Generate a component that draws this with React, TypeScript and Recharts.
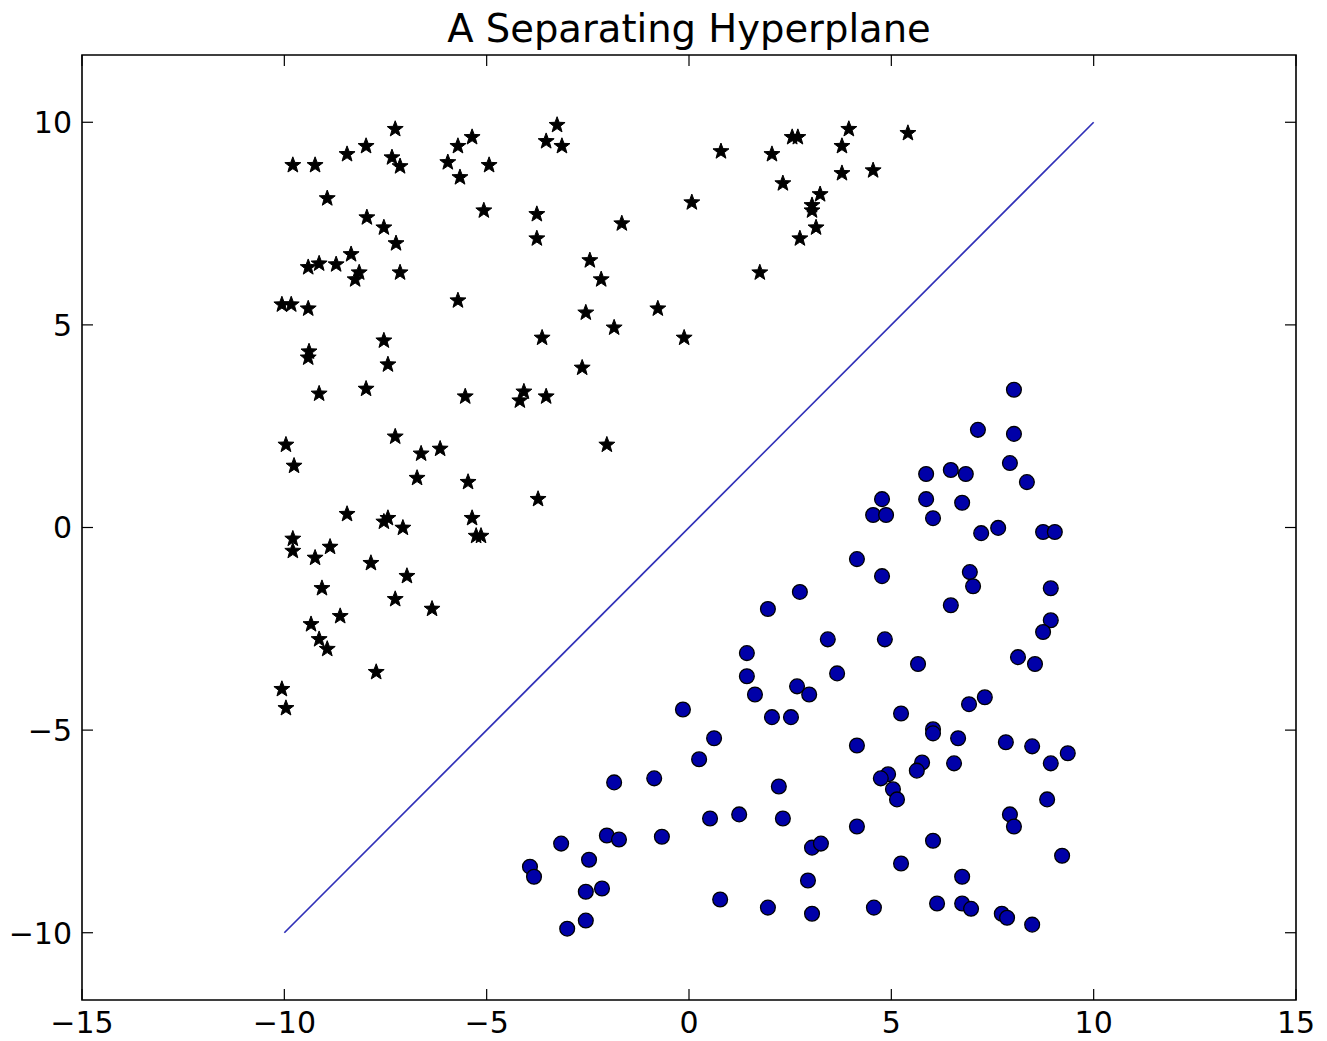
import React from 'react';
import { ScatterChart, Scatter, XAxis, YAxis, ReferenceArea } from 'recharts';

const starX = [-7.26, -7.98, -8.45, -9.79, -9.24, -7.34, -7.14, -5.36, -5.71, -5.96, -5.66, -4.94, -3.26, -3.53, -3.14,
    -8.94, -7.96, -7.54, -7.24, -5.07, -3.76, -3.76, -8.35, -9.41, -9.14, -8.72, -8.15, -8.25, -7.14, -2.45, -2.17,
    -10.06, -9.83, -9.41, -5.71, -2.55, -3.63, -7.54, -9.39, -9.41, -7.44, -2.64, -9.14, -7.98, -5.53, -4.08, -4.18, -3.53,
    0.79, 2.05, 2.55, 2.69, 3.95, 5.41, 3.78, 3.78, 4.55, 2.32, 3.24, 3.04, 3.04, 3.14, 2.74, 0.07, -1.66, 1.75, -0.77, -1.85, -0.12,
    -9.96, -9.76, -7.26, -6.62, -6.15, -6.72, -5.46, -2.03, -3.73, -8.45, -7.54, -7.44, -7.07, -5.36, -5.26, -5.14,
    -9.79, -9.79, -8.87, -9.24, -7.86, -6.97, -9.07, -7.26, -6.35, -8.62, -9.34, -9.14, -8.94, -7.73, -10.06, -9.96];
const starY = [9.83, 9.41, 9.21, 8.94, 8.94, 9.13, 8.91, 9.63, 9.41, 9.01, 8.64, 8.94, 9.93, 9.53, 9.41,
    8.12, 7.65, 7.40, 7.01, 7.82, 7.73, 7.13, 6.74, 6.42, 6.51, 6.49, 6.29, 6.12, 6.29, 6.59, 6.12,
    5.50, 5.50, 5.40, 5.60, 5.30, 4.68, 4.61, 4.34, 4.19, 4.02, 3.94, 3.30, 3.42, 3.23, 3.35, 3.13, 3.23,
    9.28, 9.21, 9.63, 9.63, 9.83, 9.73, 9.41, 8.74, 8.81, 8.49, 8.22, 7.95, 7.82, 7.40, 7.13, 8.02, 7.50, 6.29, 5.40, 4.93, 4.68,
    2.04, 1.52, 2.24, 1.82, 1.94, 1.22, 1.12, 2.04, 0.70, 0.33, 0.14, 0.23, -0.01, 0.23, -0.21, -0.21,
    -0.28, -0.58, -0.48, -0.75, -0.88, -1.20, -1.50, -1.77, -2.01, -2.19, -2.39, -2.76, -3.00, -3.57, -3.99, -4.46];

const dotX = [1.95, 2.74, 1.43, 1.43, 1.63, 8.03, 7.14, 8.03, 7.93, 8.35,
    5.86, 6.47, 6.84, 4.77, 4.55, 4.87, 5.86, 6.75, 6.03, 7.22,
    7.64, 8.75, 9.04, 4.15, 4.77, 6.94, 7.02, 8.94, 6.47, 8.94,
    8.75, 3.43, 4.84, 8.13, 8.55, 5.66, 3.66, 2.67, 2.97, 2.05,
    2.52, -0.15, 0.62, 0.25, -1.85, -0.86, 2.22, 0.52, 1.24, 2.32,
    -0.67, -2.03, -1.73, -3.16, -2.47, -3.93, -3.83, -2.55, -2.15, 0.77,
    1.95, -2.55, -3.01, 5.24, 6.03, 6.03, 6.65, 6.92, 7.31, 7.83,
    8.48, 9.36, 8.94, 4.15, 5.76, 5.63, 6.55, 4.92, 4.74, 5.04,
    5.14, 8.85, 7.93, 8.03, 4.15, 6.03, 9.22, 3.04, 3.26, 5.24,
    6.75, 2.94, 3.04, 4.57, 6.13, 6.75, 6.97, 7.73, 7.86, 8.48];
const dotY = [-2.01, -1.59, -3.10, -3.67, -4.12, 3.40, 2.41, 2.31, 1.59, 1.12,
    1.32, 1.42, 1.32, 0.70, 0.31, 0.31, 0.70, 0.61, 0.23, -0.14,
    -0.01, -0.11, -0.11, -0.78, -1.20, -1.10, -1.45, -1.50, -1.92, -2.29,
    -2.58, -2.76, -2.76, -3.20, -3.37, -3.37, -3.60, -3.92, -4.12, -4.68,
    -4.68, -4.49, -5.20, -5.72, -6.29, -6.19, -6.39, -7.18, -7.08, -7.18,
    -7.63, -7.60, -7.70, -7.80, -8.20, -8.37, -8.62, -8.99, -8.91, -9.18,
    -9.38, -9.70, -9.90, -4.59, -4.98, -5.08, -5.20, -4.36, -4.19, -5.30,
    -5.40, -5.57, -5.82, -5.38, -5.80, -6.00, -5.82, -6.09, -6.19, -6.46,
    -6.71, -6.71, -7.08, -7.38, -7.38, -7.73, -8.10, -7.90, -7.80, -8.29,
    -8.62, -8.71, -9.53, -9.38, -9.28, -9.28, -9.41, -9.53, -9.63, -9.80];

// the separating line, end points
const lineX = [-10, 10];
const lineY = [-10, 10];

const xTicks = [-15, -10, -5, 0, 5, 10, 15];
const yTicks = [-10, -5, 0, 5, 10];
const xDomain = [-15, 15];
const yDomain = [-11.66, 11.66];

const stars = starX.map((x, i) => ({ x, y: starY[i] }));
const dots = dotX.map((x, i) => ({ x, y: dotY[i] }));
const hyperplane = lineX.map((x, i) => ({ x, y: lineY[i] }));

const W = 1327;
const H = 1041;
const MARGIN = { top: 55, right: 31, bottom: 0, left: 0 };
const PLOT_TOP = MARGIN.top;
const PLOT_RIGHT = W - MARGIN.right;

const FONT = '"DejaVu Sans", sans-serif';
const TICK_LEN = 11;

const fmt = (v: number) => (v < 0 ? `\u2212${Math.abs(v)}` : `${v}`);

function StarMark(props: any) {
    const { cx, cy } = props;
    const pts: string[] = [];
    for (let i = 0; i < 10; i++) {
        const r = i % 2 === 0 ? 8.4 : 3.5;
        const a = -Math.PI / 2 + (i * Math.PI) / 5;
        pts.push(`${cx + r * Math.cos(a)},${cy + r * Math.sin(a)}`);
    }
    return <polygon points={pts.join(' ')} fill="#000" stroke="#000" strokeWidth={1} strokeLinejoin="round" />;
}

function DotMark(props: any) {
    const { cx, cy } = props;
    return <circle cx={cx} cy={cy} r={7.4} fill="#0000a8" stroke="#000" strokeWidth={1.3} />;
}

const Empty = () => <g />;

// bottom labels + inward ticks on bottom and top edges (matplotlib classic look)
function BottomTick(props: any) {
    const { x, y, payload } = props;
    const axisY = y - 10;
    return (
        <g>
            <line x1={x} y1={axisY} x2={x} y2={axisY - TICK_LEN} stroke="#000" strokeWidth={1.2} />
            <line x1={x} y1={PLOT_TOP} x2={x} y2={PLOT_TOP + TICK_LEN} stroke="#000" strokeWidth={1.2} />
            <text x={x} y={axisY + 33} textAnchor="middle" fontFamily={FONT} fontSize={30} fill="#000">
                {fmt(payload.value)}
            </text>
        </g>
    );
}

function LeftTick(props: any) {
    const { x, y, payload } = props;
    const axisX = x + 10;
    return (
        <g>
            <line x1={axisX} y1={y} x2={axisX + TICK_LEN} y2={y} stroke="#000" strokeWidth={1.2} />
            <line x1={PLOT_RIGHT} y1={y} x2={PLOT_RIGHT - TICK_LEN} y2={y} stroke="#000" strokeWidth={1.2} />
            <text x={x} y={y} dy="0.36em" textAnchor="end" fontFamily={FONT} fontSize={30} fill="#000">
                {fmt(payload.value)}
            </text>
        </g>
    );
}

export default function App() {
    return (
        <div style={{ position: 'absolute', left: 0, top: 0, width: W, height: H, background: '#fff' }}>
            <svg width={W} height={60} style={{ position: 'absolute', left: 0, top: 0 }}>
                <text x={689} y={42} textAnchor="middle" fontFamily={FONT} fontSize={38.5} fill="#000">
                    A Separating Hyperplane
                </text>
            </svg>
            <div style={{ position: 'absolute', left: 0, top: 0 }}>
                <ScatterChart width={W} height={H} margin={MARGIN}>
                    <XAxis
                        type="number"
                        dataKey="x"
                        domain={xDomain}
                        ticks={xTicks}
                        interval={0}
                        height={41}
                        tickSize={0}
                        tickMargin={10}
                        axisLine={false}
                        tickLine={false}
                        tick={<BottomTick />}
                    />
                    <YAxis
                        type="number"
                        dataKey="y"
                        domain={yDomain}
                        ticks={yTicks}
                        interval={0}
                        width={82}
                        tickSize={0}
                        tickMargin={10}
                        axisLine={false}
                        tickLine={false}
                        tick={<LeftTick />}
                    />
                    <ReferenceArea
                        x1={xDomain[0]}
                        x2={xDomain[1]}
                        y1={yDomain[0]}
                        y2={yDomain[1]}
                        fill="none"
                        fillOpacity={0}
                        stroke="#000"
                        strokeWidth={1.6}
                        ifOverflow="visible"
                    />
                    <Scatter
                        data={hyperplane}
                        line={{ stroke: '#3030b8', strokeWidth: 1.7 }}
                        shape={<Empty />}
                        isAnimationActive={false}
                    />
                    <Scatter data={stars} shape={<StarMark />} isAnimationActive={false} />
                    <Scatter data={dots} shape={<DotMark />} isAnimationActive={false} />
                </ScatterChart>
            </div>
        </div>
    );
}
